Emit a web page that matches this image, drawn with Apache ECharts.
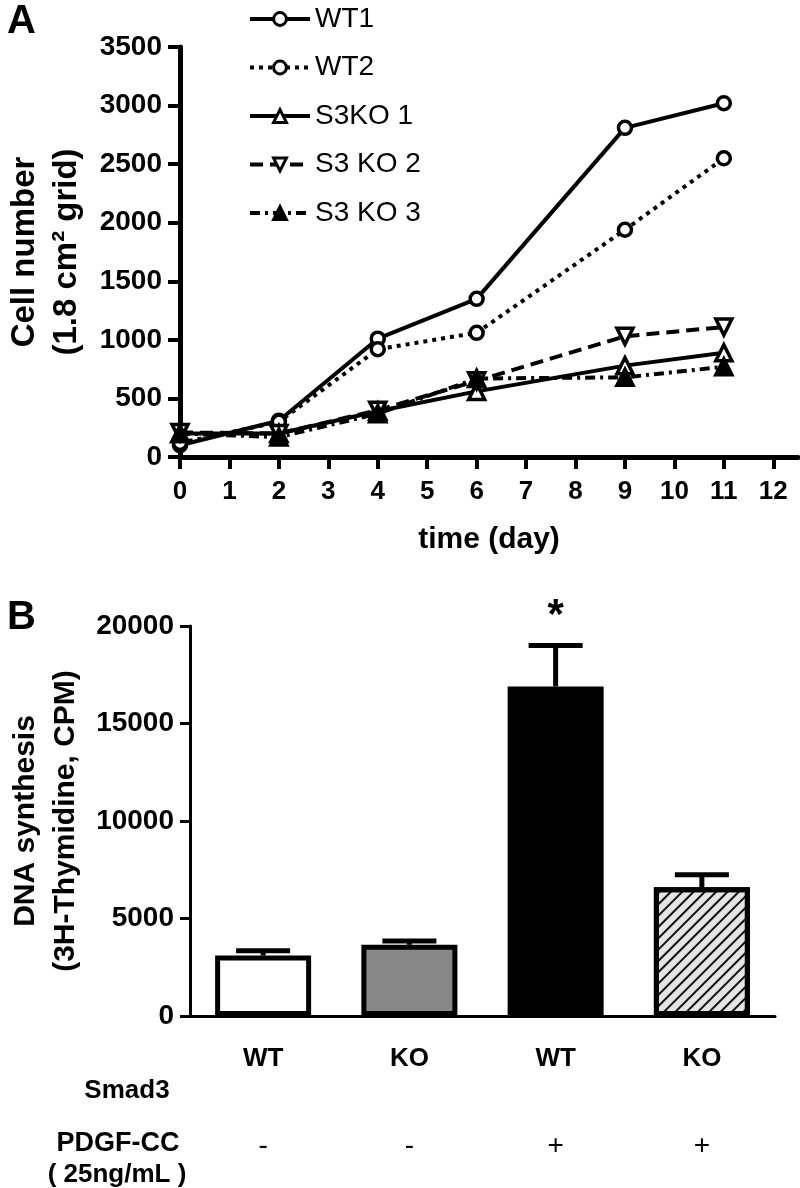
<!DOCTYPE html>
<html><head><meta charset="utf-8">
<script src="https://cdn.jsdelivr.net/npm/echarts@6/dist/echarts.min.js"></script>
<style>html,body{margin:0;padding:0;background:#fff}#c{width:800px;height:1188px}</style>
</head><body><div id="c"></div>
<script>
// ---- Panel A data ----
const days = [0, 2, 4, 6, 9, 11];
const dayTicks = [0, 1, 2, 3, 4, 5, 6, 7, 8, 9, 10, 11, 12];
const wt1 = [100, 310, 1010, 1350, 2810, 3020];
const wt2 = [120, 300, 920, 1060, 1940, 2550];
const s3ko1 = [200, 200, 390, 560, 780, 890];
const s3ko2 = [210, 200, 400, 650, 1030, 1110];
const s3ko3 = [200, 170, 370, 670, 680, 770];
const seriesNames = ['WT1', 'WT2', 'S3KO 1', 'S3 KO 2', 'S3 KO 3'];
// ---- Panel B data ----
const smad3 = ['WT', 'KO', 'WT', 'KO'];
const pdgf = ['-', '-', '+', '+'];
const dnaMean = [3100, 3650, 16900, 6600];
const dnaSem = [250, 200, 2100, 650];
const sigMarks = ['', '', '*', ''];

const FONT = "'Liberation Sans', Arial, Helvetica, sans-serif";
const chart = echarts.init(document.getElementById('c'), null, {renderer: 'canvas'});

function pts(arr) { return days.map((d, i) => [d, arr[i]]); }
const invTri = 'path://M0,0 L10,0 L5,9 Z';
const plain = v => String(v);

function lineSeries(name, arr, lineType, symbol, fill, size) {
  return {
    name: name, type: 'line', xAxisIndex: 0, yAxisIndex: 0,
    data: pts(arr), symbol: symbol, symbolSize: size,
    lineStyle: {color: '#000', width: 4, type: lineType},
    itemStyle: {color: fill, borderColor: '#000', borderWidth: 3.5},
    emphasis: {disabled: true}, z: 3
  };
}

const barColors = ['#ffffff', '#878787', '#000000', '#e4e4e4'];

const option = {
  animation: false,
  backgroundColor: '#fff',
  textStyle: {fontFamily: FONT},
  grid: [
    {left: 180, top: 47, width: 618, height: 410, containLabel: false, outerBoundsMode: 'none'},
    {left: 190, top: 626, width: 585, height: 390, containLabel: false, outerBoundsMode: 'none'}
  ],
  legend: {
    orient: 'vertical', left: 243, top: 0,
    itemWidth: 60, itemHeight: 16, itemGap: 20.5,
    data: seriesNames,
    lineStyle: {width: 4},
    itemStyle: {borderWidth: 3},
    textStyle: {fontFamily: FONT, fontSize: 28, color: '#000'},
    selectedMode: false
  },
  xAxis: [
    {
      type: 'value', gridIndex: 0, min: 0, max: 12.5, interval: 1,
      name: 'time (day)', nameLocation: 'middle', nameGap: 68,
      nameTextStyle: {fontFamily: FONT, fontSize: 30, fontWeight: 'bold', color: '#000'},
      axisLine: {lineStyle: {color: '#000', width: 5}},
      axisTick: {length: 12, lineStyle: {color: '#000', width: 4}, customValues: dayTicks},
      axisLabel: {fontFamily: FONT, fontSize: 26, fontWeight: 'bold', color: '#000', margin: 22, customValues: dayTicks, formatter: plain},
      splitLine: {show: false}
    },
    {
      type: 'category', gridIndex: 1, data: smad3,
      axisLine: {lineStyle: {color: '#000', width: 3}},
      axisTick: {alignWithLabel: true, length: 12, lineStyle: {color: '#000', width: 3}},
      axisLabel: {fontFamily: FONT, fontSize: 26, fontWeight: 'bold', color: '#000', margin: 30},
      splitLine: {show: false}
    },
    {
      type: 'category', gridIndex: 1, data: pdgf, position: 'bottom',
      axisLine: {show: false}, axisTick: {show: false},
      axisLabel: {fontFamily: FONT, fontSize: 28, color: '#000', margin: 116},
      splitLine: {show: false}
    }
  ],
  yAxis: [
    {
      type: 'value', gridIndex: 0, min: 0, max: 3500, interval: 500,
      name: 'Cell number\n(1.8 cm² grid)', nameLocation: 'middle', nameRotate: 90, nameGap: 92,
      nameTextStyle: {fontFamily: FONT, fontSize: 33, fontWeight: 'bold', color: '#000', lineHeight: 42},
      axisLine: {show: true, lineStyle: {color: '#000', width: 5}},
      axisTick: {show: true, length: 12, lineStyle: {color: '#000', width: 4}},
      axisLabel: {fontFamily: FONT, fontSize: 28, fontWeight: 'bold', color: '#000', margin: 18, formatter: plain},
      splitLine: {show: false}
    },
    {
      type: 'value', gridIndex: 1, min: 0, max: 20000, interval: 5000,
      name: 'DNA synthesis\n(3H-Thymidine, CPM)', nameLocation: 'middle', nameRotate: 90, nameGap: 102,
      nameTextStyle: {fontFamily: FONT, fontSize: 30, fontWeight: 'bold', color: '#000', lineHeight: 40},
      axisLine: {show: true, lineStyle: {color: '#000', width: 3}},
      axisTick: {show: true, length: 10, lineStyle: {color: '#000', width: 3}},
      axisLabel: {fontFamily: FONT, fontSize: 28, fontWeight: 'bold', color: '#000', margin: 16, formatter: plain},
      splitLine: {show: false}
    }
  ],
  series: [
    lineSeries(seriesNames[0], wt1, 'solid', 'circle', '#fff', 13),
    lineSeries(seriesNames[1], wt2, [4, 5], 'circle', '#fff', 13),
    lineSeries(seriesNames[2], s3ko1, 'solid', 'triangle', '#fff', 16),
    lineSeries(seriesNames[3], s3ko2, [13, 7], invTri, '#fff', 16),
    lineSeries(seriesNames[4], s3ko3, [10, 5, 3, 5], 'triangle', '#000', 16),
    {
      type: 'custom', xAxisIndex: 1, yAxisIndex: 1, z: 1,
      data: dnaMean.map((m, i) => [i, m, dnaSem[i]]),
      renderItem: function (params, api) {
        const i = api.value(0), m = api.value(1), s = api.value(2);
        const base = api.coord([i, m]);
        const top = api.coord([i, m + s]);
        const hw = 27;
        const children = [
          {type: 'line', shape: {x1: base[0], y1: base[1], x2: top[0], y2: top[1]}, style: {stroke: '#000', lineWidth: 5}},
          {type: 'line', shape: {x1: top[0] - hw, y1: top[1], x2: top[0] + hw, y2: top[1]}, style: {stroke: '#000', lineWidth: 5}}
        ];
        const mark = sigMarks[params.dataIndex];
        if (mark) {
          children.push({type: 'text', x: top[0], y: top[1] - 8,
            style: {text: mark, fill: '#000', font: 'bold 42px ' + FONT, align: 'center', verticalAlign: 'bottom'}});
        }
        return {type: 'group', children: children};
      }
    },
    {
      type: 'bar', xAxisIndex: 1, yAxisIndex: 1, z: 2, barWidth: 96,
      data: dnaMean.map((m, i) => ({
        value: m,
        itemStyle: i === 3 ? {
          color: barColors[i], borderColor: '#000', borderWidth: 5,
          decal: {symbol: 'rect', symbolSize: 1, dashArrayX: [1, 0], dashArrayY: [2, 6], rotation: -Math.PI / 4, color: '#111'}
        } : {color: barColors[i], borderColor: '#000', borderWidth: 5}
      })),
      emphasis: {disabled: true}
    }
  ],
  graphic: [
    {type: 'text', left: 7, top: 2, style: {text: 'A', font: 'bold 40px ' + FONT, fill: '#000'}},
    {type: 'text', left: 7, top: 598, style: {text: 'B', font: 'bold 40px ' + FONT, fill: '#000'}},
    {type: 'text', x: 127, y: 1091, style: {text: 'Smad3', font: 'bold 26px ' + FONT, fill: '#000', align: 'center', verticalAlign: 'middle'}},
    {type: 'text', x: 118, y: 1144, style: {text: 'PDGF-CC', font: 'bold 27px ' + FONT, fill: '#000', align: 'center', verticalAlign: 'middle'}},
    {type: 'text', x: 117, y: 1175, style: {text: '( 25ng/mL )', font: 'bold 26px ' + FONT, fill: '#000', align: 'center', verticalAlign: 'middle'}}
  ]
};
chart.setOption(option);
</script>
</body></html>
